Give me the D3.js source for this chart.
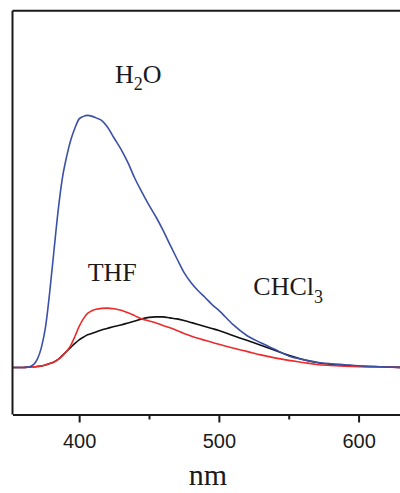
<!DOCTYPE html>
<html>
<head>
<meta charset="utf-8">
<script src="https://cdnjs.cloudflare.com/ajax/libs/d3/7.8.5/d3.min.js"></script>
<style>
  body { margin: 0; background: #fff; }
  svg { display: block; }
</style>
</head>
<body>
<svg></svg>
<script>
// emission wavelength grid (nm)
var wavelength = [352, 360, 365, 370, 373, 376, 379, 382, 385, 388, 391, 394, 397, 400, 403, 406, 409, 412, 416, 420,
	425, 430, 435, 440, 445, 450, 455, 460, 465, 470, 475, 480, 485, 490, 495, 500, 510, 520, 530, 540,
	550, 560, 570, 580, 590, 600, 615, 632];

// intensities (a.u.)
var h2o = [0, 0, 0.4, 3.2, 8.0, 16.3, 30.3, 46.6, 62.5, 75.3, 83.7, 90.4, 95.2, 98.8, 99.8, 100.2, 99.9, 99.2, 98.2, 95.8,
	91.2, 86.7, 81.3, 75.0, 69.6, 64.5, 59.8, 54.6, 48.8, 43.2, 37.8, 33.8, 30.6, 27.9, 25.1, 22.7, 17.1, 12.7, 9.8, 7.2,
	4.6, 3.2, 2.1, 1.5, 1.1, 0.7, 0.3, 0];
var thf = [0, 0, 0.2, 0.4, 0.6, 1.0, 1.6, 2.2, 3.2, 4.6, 6.4, 8.8, 12.4, 16.3, 19.3, 21.5, 22.5, 23.1, 23.5, 23.6,
	23.3, 22.7, 21.7, 20.5, 19.3, 18.5, 17.7, 16.7, 15.8, 14.7, 13.5, 12.5, 11.6, 10.8, 10.0, 9.2, 7.7, 6.4, 5.0, 3.8,
	2.8, 2.0, 1.2, 0.8, 0.5, 0.3, 0.2, 0];
var chcl3 = [0, 0, 0.2, 0.4, 0.6, 1.0, 1.6, 2.2, 3.2, 4.8, 6.4, 8.0, 9.6, 11.0, 12.0, 13.0, 13.5, 14.1, 14.9, 15.5,
	16.3, 16.9, 17.7, 18.5, 19.3, 19.9, 20.1, 20.1, 19.7, 19.3, 18.7, 17.9, 17.1, 16.3, 15.5, 14.7, 12.7, 10.8, 8.8, 6.8,
	4.8, 3.2, 2.0, 1.3, 0.9, 0.6, 0.3, 0];

var majorTicks = [400, 500, 600];
var minorTicks = [450, 550];

var width = 400, height = 493;

var svg = d3.select("svg")
	.attr("width", width)
	.attr("height", height);

// scales
var x = d3.scaleLinear()
	.domain([352.3, 630])
	.range([12.5, 400.5]);

var y = d3.scaleLinear()
	.domain([-18.7, 141.8])
	.range([414.5, 10.7]);

var line = d3.line()
	.x(function(d) { return x(d[0]); })
	.y(function(d) { return y(d[1]); })
	.curve(d3.curveMonotoneX);

var series = [
	{ values: chcl3, color: "#111111" },
	{ values: thf, color: "#ee2b2b" },
	{ values: h2o, color: "#3b50a8" }
];

series.forEach(function(s) {
	svg.append("path")
		.datum(wavelength.map(function(w, i) { return [w, s.values[i]]; }))
		.attr("fill", "none")
		.attr("stroke", s.color)
		.attr("stroke-width", 1.6)
		.attr("stroke-linejoin", "round")
		.attr("d", line);
});

// frame: left and top
svg.append("line")
	.attr("x1", x.range()[0]).attr("x2", x.range()[0])
	.attr("y1", y.range()[1]).attr("y2", y.range()[0])
	.attr("stroke", "#1a1a1a").attr("stroke-width", 2);
svg.append("line")
	.attr("x1", x.range()[0]).attr("x2", x.range()[1])
	.attr("y1", y.range()[1]).attr("y2", y.range()[1])
	.attr("stroke", "#1a1a1a").attr("stroke-width", 2);

// bottom axis
var xAxis = svg.append("g")
	.attr("transform", "translate(0," + y.range()[0] + ")")
	.call(d3.axisBottom(x).tickValues(majorTicks).tickSize(8).tickSizeOuter(0).tickPadding(11.3));
xAxis.select(".domain").attr("stroke", "#1a1a1a").attr("stroke-width", 2);
xAxis.selectAll(".tick line").attr("stroke", "#1a1a1a").attr("stroke-width", 2);
xAxis.selectAll(".tick text")
	.attr("fill", "#1a1a1a")
	.style("font-family", "'Liberation Sans', Arial, sans-serif")
	.style("font-size", "20px");

svg.append("g")
	.attr("transform", "translate(0," + y.range()[0] + ")")
	.call(d3.axisBottom(x).tickValues(minorTicks).tickSize(5).tickFormat(""))
	.call(function(g) { g.select(".domain").remove(); })
	.selectAll(".tick line").attr("stroke", "#1a1a1a").attr("stroke-width", 2);

// axis title
svg.append("text")
	.attr("x", 208)
	.attr("y", 485)
	.attr("text-anchor", "middle")
	.style("font-family", "'Liberation Serif', 'Times New Roman', serif")
	.style("font-size", "30px")
	.attr("fill", "#1a1a1a")
	.text("nm");

// curve labels
var serif = "'Liberation Serif', 'Times New Roman', serif";

var lblH2O = svg.append("text")
	.attr("x", 115).attr("y", 82.7)
	.style("font-family", serif).style("font-size", "26px").attr("fill", "#1a1a1a");
lblH2O.append("tspan").text("H");
lblH2O.append("tspan").attr("dy", 7).style("font-size", "18px").text("2");
lblH2O.append("tspan").attr("dy", -7).text("O");

svg.append("text")
	.attr("x", 87.7).attr("y", 280.7)
	.style("font-family", serif).style("font-size", "26px").attr("fill", "#1a1a1a")
	.text("THF");

var lblCHCl = svg.append("text")
	.attr("x", 253.3).attr("y", 295)
	.style("font-family", serif).style("font-size", "26px").attr("fill", "#1a1a1a");
lblCHCl.append("tspan").text("CHCl");
lblCHCl.append("tspan").attr("dy", 7.5).style("font-size", "18px").text("3");
</script>
</body>
</html>
